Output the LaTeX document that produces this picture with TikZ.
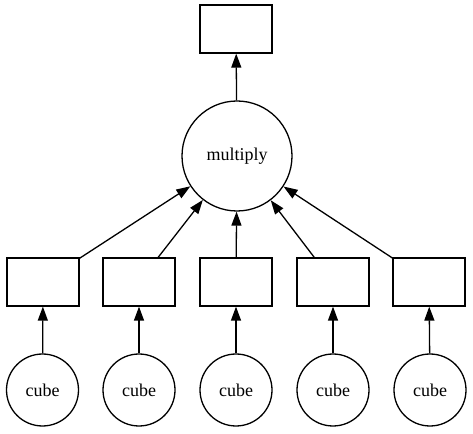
\documentclass[tikz,border=0pt]{standalone}
\usepackage{fontspec}
\setmainfont{Liberation Serif}
\usepackage{tikz}
\usetikzlibrary{arrows.meta}

\begin{document}
\begin{tikzpicture}[x=1pt,y=1pt,
  every node/.style={font=\fontsize{18}{20}\selectfont},
  box/.style={draw,line width=1.3pt,minimum width=72pt,minimum height=48pt,inner sep=0pt},
  op/.style={draw,circle,line width=1.3pt,inner sep=0pt},
  edge/.style={line width=1.3pt,-{Triangle[length=14pt,width=10pt]}}]
\useasboundingbox (0,0) rectangle (473,433);
\node[box] (out) at (236,404) {};
\node[op,minimum size=110pt] (mul) at (237,277) {multiply};
\node[box] (b1) at (43,151) {};
\node[box] (b2) at (139,151) {};
\node[box] (b3) at (236,151) {};
\node[box] (b4) at (333,151) {};
\node[box] (b5) at (429,151) {};
\node[op,minimum size=72pt] (c1) at (42.5,43) {cube};
\node[op,minimum size=72pt] (c2) at (139,43) {cube};
\node[op,minimum size=72pt] (c3) at (236,43) {cube};
\node[op,minimum size=72pt] (c4) at (333,43) {cube};
\node[op,minimum size=72pt] (c5) at (430,43) {cube};
\draw[edge] (mul) -- (out);
\draw[edge] (b1) -- (mul);
\draw[edge] (b2) -- (mul);
\draw[edge] (b3) -- (mul);
\draw[edge] (b4) -- (mul);
\draw[edge] (b5) -- (mul);
\draw[edge] (c1) -- (b1);
\draw[edge] (c2) -- (b2);
\draw[edge] (c3) -- (b3);
\draw[edge] (c4) -- (b4);
\draw[edge] (c5) -- (b5);
\end{tikzpicture}
\end{document}
